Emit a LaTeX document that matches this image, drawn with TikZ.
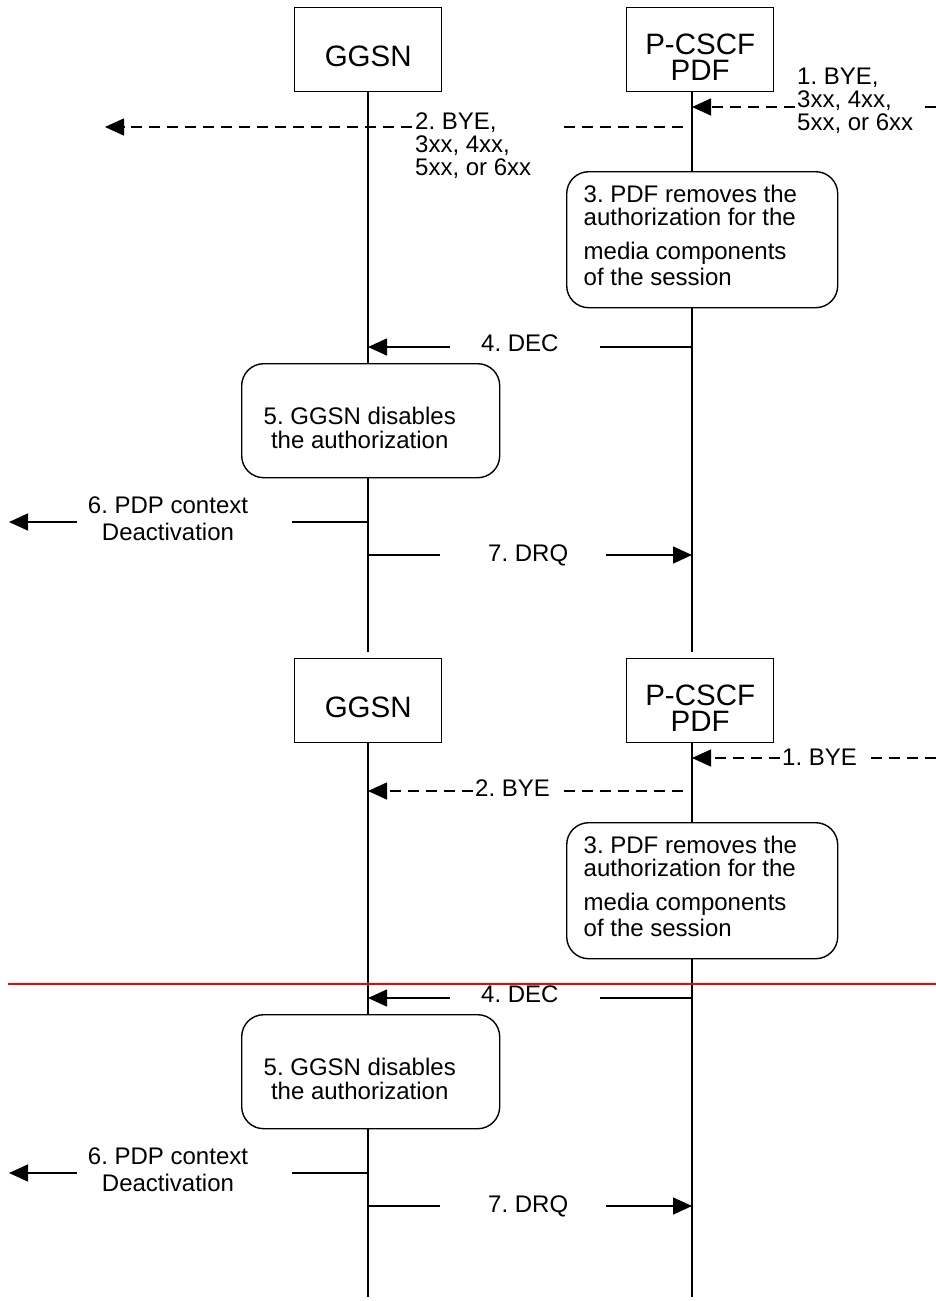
\documentclass[tikz,border=0pt]{standalone}
\usepackage{fontspec}
\setmainfont{Liberation Sans}
\usetikzlibrary{arrows.meta}
\newcommand\LLines[2]{\vtop{\baselineskip=#1\lineskip=0pt\lineskiplimit=-\maxdimen\halign{##\hfil\cr#2\crcr}}}
\newcommand\CLines[2]{\vtop{\baselineskip=#1\lineskip=0pt\lineskiplimit=-\maxdimen\halign{\hfil##\hfil\cr#2\crcr}}}
\tikzset{
  ln/.style={line width=1.4pt},
  dsh/.style={ln, dash pattern=on 11pt off 7pt},
  arr/.style={-{Triangle[length=19pt,width=17pt]}},
  head/.style={draw, ln, fill=white, inner sep=0pt, anchor=north west, font=\fontsize{29.5}{30}\selectfont},
  rbox/.style={draw, ln, fill=white, inner sep=0pt, anchor=north west, rounded corners=22pt, font=\fontsize{24}{24}\selectfont},
  lbl/.style={inner sep=0pt, font=\fontsize{24}{24}\selectfont},
  redl/.style={draw=red, line width=1.6pt}
}
\begin{document}
\frenchspacing
\begin{tikzpicture}[x=1pt,y=-1pt]
\fill[white] (0,0) rectangle (936,1301);
\useasboundingbox (0,0) rectangle (936,1301);

\foreach \o/\s/\e in {0/a/652, 651/b/1297}{
  % heads
  \node[head] (ggsn\s) at (294,7+\o) {\vbox to 84pt{\vskip37pt\hbox to 147pt{\hss\rule{0pt}{22pt}GGSN\hss}\vss}};
  \node[head] (pdf\s) at (626,7+\o) {\vbox to 84pt{\vskip25pt\hbox to 147pt{\hss\rule{0pt}{22pt}\CLines{26pt}{P-CSCF\cr PDF}\hss}\vss}};
  % lifelines
  \coordinate (gend\s) at (368,\e);
  \coordinate (pend\s) at (692,\e);
  \draw[ln] (gend\s |- ggsn\s.south) -- (gend\s);
  \draw[ln] (pend\s |- pdf\s.south) -- (pend\s);
  % step 3 box
  \node[rbox] (rthree\s) at (566,171+\o) {\vbox to 136pt{\vskip13pt\hbox to 271pt{\hskip17pt\rule{0pt}{18pt}\LLines{23pt}{3. PDF removes the\cr authorization for the\cr\noalign{\vskip11pt}media components\cr\noalign{\vskip3pt}of the session}\hss}\vss}};
  % step 4 DEC
  \coordinate (dfs\s) at (692,347+\o);
  \coordinate (dfa\s) at (600,347+\o);
  \coordinate (dfb\s) at (450,347+\o);
  \coordinate (dft\s) at (368,347+\o);
  \draw[ln] (dfs\s) -- (dfa\s);
  \draw[ln,arr] (dfb\s) -- (dft\s);
  \node[lbl, anchor=base west] (lfour\s) at (481,351+\o) {4. DEC};
  % step 5 box
  \node[rbox] (rfive\s) at (241,363+\o) {\vbox to 114pt{\vskip43pt\hbox to 258pt{\hskip22pt\rule{0pt}{18pt}\CLines{24pt}{5. GGSN disables\cr the authorization}\hss}\vss}};
  % step 6
  \coordinate (sxs\s) at (368,522+\o);
  \coordinate (sxa\s) at (292,522+\o);
  \coordinate (sxb\s) at (77,522+\o);
  \coordinate (sxt\s) at (9,522+\o);
  \draw[ln] (sxs\s) -- (sxa\s);
  \draw[ln,arr] (sxb\s) -- (sxt\s);
  \node[lbl, anchor=base] (lsix\s) at (168,513+\o) {\CLines{27pt}{6. PDP context\cr Deactivation}};
  % step 7 DRQ
  \coordinate (svs\s) at (368,555+\o);
  \coordinate (sva\s) at (440,555+\o);
  \coordinate (svb\s) at (606,555+\o);
  \coordinate (svt\s) at (692,555+\o);
  \draw[ln] (svs\s) -- (sva\s);
  \draw[ln,arr] (svb\s) -- (svt\s);
  \node[lbl, anchor=base west] (lseven\s) at (488,561+\o) {7. DRQ};
}

% top: 1. BYE, 3xx...
\coordinate (oas) at (936,107);
\coordinate (oaa) at (921,107);
\coordinate (oab) at (795,107);
\coordinate (oat) at (692,107);
\draw[dsh] (oas) -- (oaa);
\draw[dsh,arr] (oab) -- (oat);
\node[lbl, anchor=base west] (lonea) at (797,84.5) {\LLines{23pt}{1. BYE,\cr 3xx, 4xx,\cr 5xx, or 6xx}};

% top: 2. BYE, 3xx...
\coordinate (tas) at (683,127);
\coordinate (taa) at (563,127);
\coordinate (tab) at (412,127);
\coordinate (tat) at (105,127);
\draw[dsh] (tas) -- (taa);
\draw[dsh,arr] (tab) -- (tat);
\node[lbl, anchor=base west] (ltwoa) at (415,129.5) {\LLines{23pt}{2. BYE,\cr 3xx, 4xx,\cr 5xx, or 6xx}};

% lower: 1. BYE
\coordinate (obs) at (936,758);
\coordinate (oba) at (870,758);
\coordinate (obb) at (780,758);
\coordinate (obt) at (692,758);
\draw[dsh] (obs) -- (oba);
\draw[dsh,arr] (obb) -- (obt);
\node[lbl, anchor=base west] (loneb) at (782,765) {1. BYE};

% lower: 2. BYE
\coordinate (tbs) at (683,791);
\coordinate (tba) at (560,791);
\coordinate (tbb) at (473,791);
\coordinate (tbt) at (368,791);
\draw[dsh] (tbs) -- (tba);
\draw[dsh,arr] (tbb) -- (tbt);
\node[lbl, anchor=base west] (ltwob) at (475,796) {2. BYE};

% red marker line
\coordinate (redl) at (8,984);
\coordinate (redr) at (936,984);
\draw[redl] (redl) -- (redr);
\end{tikzpicture}
\end{document}
